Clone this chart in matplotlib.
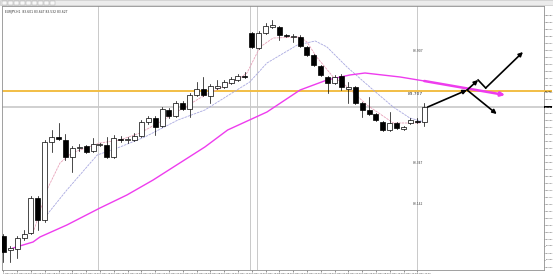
import matplotlib
matplotlib.use("Agg")
import matplotlib.pyplot as plt
from matplotlib.patches import Rectangle
import numpy as np

# ---------------- data ----------------
opens = [82.982, 82.912, 82.917, 82.972, 82.997, 83.172, 83.062, 83.452, 83.477, 83.462,
         83.377, 83.422, 83.432, 83.407, 83.437, 83.437, 83.377, 83.467, 83.462, 83.462,
         83.482, 83.552, 83.572, 83.532, 83.612, 83.582, 83.647, 83.617, 83.687, 83.717,
         83.682, 83.722, 83.727, 83.747, 83.762, 83.782, 83.997, 83.922, 83.997, 84.027,
         84.027, 83.987, 83.977, 83.977, 83.927, 83.887, 83.832, 83.777, 83.747, 83.782,
         83.717, 83.727, 83.647, 83.612, 83.592, 83.552, 83.512, 83.547, 83.517, 83.547,
         83.557, 83.552]
highs = [82.992, 82.932, 82.982, 83.012, 83.182, 83.182, 83.462, 83.512, 83.547, 83.492,
         83.432, 83.442, 83.437, 83.472, 83.447, 83.477, 83.487, 83.482, 83.477, 83.497,
         83.562, 83.582, 83.582, 83.627, 83.622, 83.657, 83.657, 83.697, 83.752, 83.777,
         83.742, 83.762, 83.762, 83.777, 83.792, 83.802, 84.002, 84.007, 84.047, 84.062,
         84.032, 83.992, 83.992, 83.987, 83.932, 83.892, 83.837, 83.782, 83.787, 83.792,
         83.752, 83.732, 83.652, 83.677, 83.597, 83.557, 83.602, 83.552, 83.532, 83.572,
         83.572, 83.647]
lows = [82.852, 82.852, 82.872, 82.962, 82.992, 83.012, 83.052, 83.402, 83.462, 83.362,
        83.302, 83.407, 83.397, 83.402, 83.432, 83.372, 83.372, 83.452, 83.447, 83.457,
        83.477, 83.542, 83.487, 83.527, 83.572, 83.577, 83.612, 83.577, 83.682, 83.682,
        83.647, 83.717, 83.722, 83.742, 83.757, 83.772, 83.922, 83.917, 83.992, 84.022,
        83.962, 83.977, 83.952, 83.927, 83.882, 83.832, 83.782, 83.697, 83.742, 83.712,
        83.647, 83.642, 83.577, 83.587, 83.557, 83.507, 83.507, 83.517, 83.512, 83.542,
        83.547, 83.532]
closes = [82.902, 82.922, 82.972, 82.992, 83.172, 83.062, 83.452, 83.477, 83.467, 83.377,
          83.422, 83.427, 83.402, 83.442, 83.442, 83.377, 83.472, 83.462, 83.467, 83.482,
          83.552, 83.572, 83.527, 83.617, 83.582, 83.647, 83.617, 83.687, 83.717, 83.687,
          83.732, 83.732, 83.752, 83.767, 83.782, 83.777, 83.927, 83.997, 84.032, 84.037,
          83.987, 83.982, 83.982, 83.932, 83.887, 83.837, 83.787, 83.747, 83.777, 83.727,
          83.727, 83.647, 83.612, 83.592, 83.562, 83.512, 83.547, 83.522, 83.527, 83.562,
          83.552, 83.627]

# long moving average (magenta)
ma_slow_x = [1.4, 4.3, 5.3, 9.2, 14.0, 17.9, 21.7, 29.2, 32.5, 38.2, 43.0, 46.9, 50.2, 52.4, 57.5, 61.0]
ma_slow_y = [82.922, 82.952, 82.977, 83.037, 83.122, 83.187, 83.262, 83.427, 83.512, 83.602,
             83.712, 83.762, 83.787, 83.797, 83.777, 83.757]
# medium moving average (lavender)
ma_mid_x = [5.7, 9.2, 13.6, 16.9, 20.5, 25.3, 29.2, 35.7, 38.2, 42.6, 45.2, 46.9, 49.8, 53.6, 56.5, 58.9, 61.0]
ma_mid_y = [83.062, 83.212, 83.387, 83.427, 83.477, 83.562, 83.612, 83.752, 83.847, 83.937,
            83.957, 83.927, 83.827, 83.712, 83.627, 83.572, 83.552]
# fast moving average (pink)
ma_fast_x = [4.3, 6.3, 8.2, 9.9, 14.0, 16.9, 19.8, 22.7, 25.6, 28.5, 31.4, 34.3, 35.3, 37.2,
             39.1, 43.0, 44.0, 45.4, 47.8, 49.2, 52.7, 56.5, 60.4]
ma_fast_y = [82.997, 83.212, 83.347, 83.397, 83.447, 83.462, 83.497, 83.552, 83.612, 83.672,
             83.722, 83.772, 83.797, 83.927, 83.972, 83.977, 83.952, 83.877, 83.777, 83.747,
             83.637, 83.547, 83.547]

# projected path arrows
proj_ma_end = (72.7, 83.687)
path_start = (61.5, 83.627)
path_pivot = (67.2, 83.712)
path_up1 = (68.8, 83.762)
path_dip = (69.9, 83.722)
path_up2 = (75.3, 83.902)
path_down = (71.5, 83.592)

level_price = 83.707
level_label = "83.707"
current_price = closes[-1]
separators = [13.7, 35.7, 36.75, 59.9]
fib_labels = [(60.1, 83.907, "83.907"), (60.1, 83.347, "83.347"), (60.1, 83.142, "83.142")]

time_labels = ["2 Nov 02:00", "2 Nov 04:00", "2 Nov 06:00", "2 Nov 08:00", "2 Nov 10:00",
               "2 Nov 12:00", "2 Nov 14:00", "2 Nov 16:00", "2 Nov 18:00", "2 Nov 20:00",
               "2 Nov 22:00", "3 Nov 00:00", "3 Nov 02:00", "3 Nov 04:00", "3 Nov 06:00",
               "3 Nov 08:00", "3 Nov 10:00", "3 Nov 12:00", "3 Nov 14:00", "3 Nov 16:00",
               "3 Nov 18:00", "3 Nov 20:00", "3 Nov 22:00", "4 Nov 00:00", "4 Nov 02:00",
               "4 Nov 04:00", "4 Nov 06:00", "4 Nov 08:00", "4 Nov 10:00", "4 Nov 12:00",
               "4 Nov 14:00"]

# ---------------- figure ----------------
W, H = 553, 278
fig = plt.figure(figsize=(W / 100, H / 100), dpi=100)
fig.patch.set_facecolor("white")

# toolbar strip
fig.patches.append(Rectangle((0, 1 - 5 / H), 1, 5 / H, transform=fig.transFigure,
                             facecolor="#ececec", edgecolor="#c8c8c8", lw=0.5))
for k in range(9):
    fig.patches.append(Rectangle(((2 + k * 6) / W, 1 - 4.5 / H), 5 / W, 3.5 / H,
                                 transform=fig.transFigure, facecolor="#f8f8f8",
                                 edgecolor="#a0a0a0", lw=0.3))

ax = fig.add_axes([2 / W, 8 / H, 542 / W, 264 / H])
ax.set_facecolor("white")
xmin = -0.2
xmax = xmin + 542 / 6.9
ax.set_xlim(xmin, xmax)
ax.set_ylim(82.812, 84.132)

# separators
for sx in separators:
    ax.axvline(sx, color="#c0c0c0", lw=0.6, zorder=1)

# horizontal lines
ax.axhline(level_price, color="#f2be45", lw=1.4, zorder=2)
ax.axhline(current_price, color="#c8c8c8", lw=1.2, zorder=1)

# moving averages
ax.plot(ma_mid_x, ma_mid_y, color="#a8a8e0", lw=0.6, ls=(0, (3, 1)), zorder=3)
ax.plot(ma_fast_x, ma_fast_y, color="#e8a0b8", lw=0.6, ls=(0, (3, 1)), zorder=3)
ax.plot(ma_slow_x, ma_slow_y, color="#ee3cee", lw=1.0, zorder=3)

# candles
bw = 0.72
for i, (o, h, l, c) in enumerate(zip(opens, highs, lows, closes)):
    ax.plot([i, i], [l, h], color="black", lw=0.5, zorder=4)
    bottom = min(o, c)
    height = max(abs(c - o), 0.0015)
    face = "white" if c >= o else "black"
    ax.add_patch(Rectangle((i - bw / 2, bottom), bw, height, facecolor=face,
                           edgecolor="black", lw=0.5, zorder=5))

# projection of slow MA
ax.annotate("", xy=proj_ma_end, xytext=(ma_slow_x[-1], ma_slow_y[-1]),
            arrowprops=dict(arrowstyle="-|>", color="#ee3cee", lw=1.8,
                            mutation_scale=6, shrinkA=0, shrinkB=0), zorder=6)

arrow_kw = dict(arrowstyle="-|>", color="black", lw=1.2, mutation_scale=6, shrinkA=0, shrinkB=0)
ax.annotate("", xy=path_pivot, xytext=path_start, arrowprops=arrow_kw, zorder=7)
ax.annotate("", xy=path_up1, xytext=path_pivot, arrowprops=arrow_kw, zorder=7)
ax.plot([path_up1[0], path_dip[0]], [path_up1[1], path_dip[1]], color="black", lw=1.2, zorder=7)
ax.annotate("", xy=path_up2, xytext=path_dip, arrowprops=arrow_kw, zorder=7)
ax.annotate("", xy=path_down, xytext=path_pivot, arrowprops=arrow_kw, zorder=7)

# labels on chart
ax.text(59.7, level_price - 0.004, level_label, fontsize=3.2, ha="center", va="top",
        color="#303030", zorder=8)
for fx, fy, ft in fib_labels:
    ax.text(fx, fy, ft, fontsize=2.2, ha="center", va="center", color="#404040", zorder=8)
ax.text(0.006, 0.985, "EURJPY,H1  83.601 83.647 83.532 83.627", transform=ax.transAxes,
        fontsize=2.2, ha="left", va="top", color="#303030")

# axes styling
for sp in ax.spines.values():
    sp.set_color("#909090")
    sp.set_linewidth(0.6)
ax.yaxis.tick_right()
price_step = 0.035
yt = np.arange(82.827, 84.12, price_step)
ax.set_yticks(yt)
ax.set_yticklabels([f"{v:.3f}" for v in yt])
ax.tick_params(axis="y", labelsize=1.5, length=0.7, width=0.4, pad=0.3, colors="#404040")

xt = list(range(0, 2 * len(time_labels), 2))
ax.set_xticks(xt)
ax.set_xticklabels(time_labels, ha="left")
ax.tick_params(axis="x", labelsize=1.6, length=1.5, width=0.4, pad=0.6, colors="#404040")

# price boxes on the right axis
ax.text(1.001, level_price, level_label, transform=ax.get_yaxis_transform(), fontsize=1.5,
        ha="left", va="center", color="black",
        bbox=dict(boxstyle="square,pad=0.15", facecolor="#f2be45", edgecolor="none"))
ax.text(1.001, current_price, f"{current_price:.3f}", transform=ax.get_yaxis_transform(),
        fontsize=1.5, ha="left", va="center", color="white",
        bbox=dict(boxstyle="square,pad=0.15", facecolor="black", edgecolor="none"))

fig.savefig("out.png", dpi=100)
